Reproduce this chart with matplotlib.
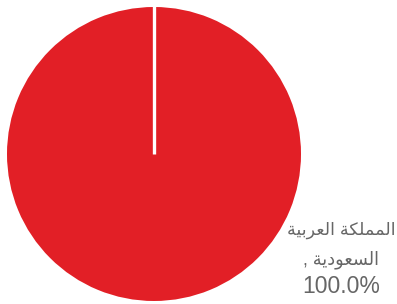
import numpy as np
import matplotlib
matplotlib.use("Agg")
import matplotlib.pyplot as plt

labels = ["المملكة العربية السعودية"]
values = [100.0]
colors = ["#E21F26"]

# matplotlib has no arabic shaping, so map letters to presentation forms by hand
FORMS = {
    "ا": ("\uFE8D", "\uFE8E", None, None),
    "ة": ("\uFE93", "\uFE94", None, None),
    "ر": ("\uFEAD", "\uFEAE", None, None),
    "و": ("\uFEED", "\uFEEE", None, None),
    "د": ("\uFEA9", "\uFEAA", None, None),
    "ل": ("\uFEDD", "\uFEDE", "\uFEDF", "\uFEE0"),
    "م": ("\uFEE1", "\uFEE2", "\uFEE3", "\uFEE4"),
    "ك": ("\uFED9", "\uFEDA", "\uFEDB", "\uFEDC"),
    "ع": ("\uFEC9", "\uFECA", "\uFECB", "\uFECC"),
    "ب": ("\uFE8F", "\uFE90", "\uFE91", "\uFE92"),
    "ي": ("\uFEF1", "\uFEF2", "\uFEF3", "\uFEF4"),
    "س": ("\uFEB1", "\uFEB2", "\uFEB3", "\uFEB4"),
}
DUAL = {c for c, f in FORMS.items() if f[2] is not None}


def shape_rtl(s):
    out = []
    for i, ch in enumerate(s):
        if ch not in FORMS:
            out.append(ch)
            continue
        prev = s[i - 1] if i > 0 else None
        nxt = s[i + 1] if i + 1 < len(s) else None
        jp = prev in DUAL
        jn = ch in DUAL and nxt in FORMS
        iso, fin, ini, med = FORMS[ch]
        if jp and jn:
            out.append(med)
        elif jp:
            out.append(fin)
        elif jn:
            out.append(ini)
        else:
            out.append(iso)
    return "".join(out)[::-1]


fig = plt.figure(figsize=(3.97, 3.04), dpi=100)
W, H = 397, 304
cx, cy, r = 154, 154, 147
ax = fig.add_axes([(cx - r) / W, (H - cy - r) / H, 2 * r / W, 2 * r / H])

wedges, _ = ax.pie(values, colors=colors, startangle=90, counterclock=False,
                   radius=1, wedgeprops=dict(linewidth=0))
ax.set_xlim(-1, 1)
ax.set_ylim(-1, 1)
ax.axis("off")

# slice boundary (full circle wedge has no radial edge)
ang = np.deg2rad(wedges[0].theta2)
ax.plot([0, np.cos(ang) * 1.02], [0, np.sin(ang) * 1.02], color="white",
        lw=2.4, solid_capstyle="butt", clip_on=False)

words = labels[0].split(" ")
lines = [shape_rtl(" ".join(words[:2])), shape_rtl(words[2] + " ,"),
         f"{values[0]:.1f}%"]
sizes = [12.6, 12.8, 16.5]
base_px = [235, 264, 293]
lx = (341 - cx) / r
for txt, fs, by in zip(lines, sizes, base_px):
    ax.text(lx, (cy - by) / r, txt, ha="center", va="baseline", fontsize=fs,
            color="#666666", family=["Liberation Sans", "DejaVu Sans"],
            clip_on=False)

fig.savefig("out.png", dpi=100)
